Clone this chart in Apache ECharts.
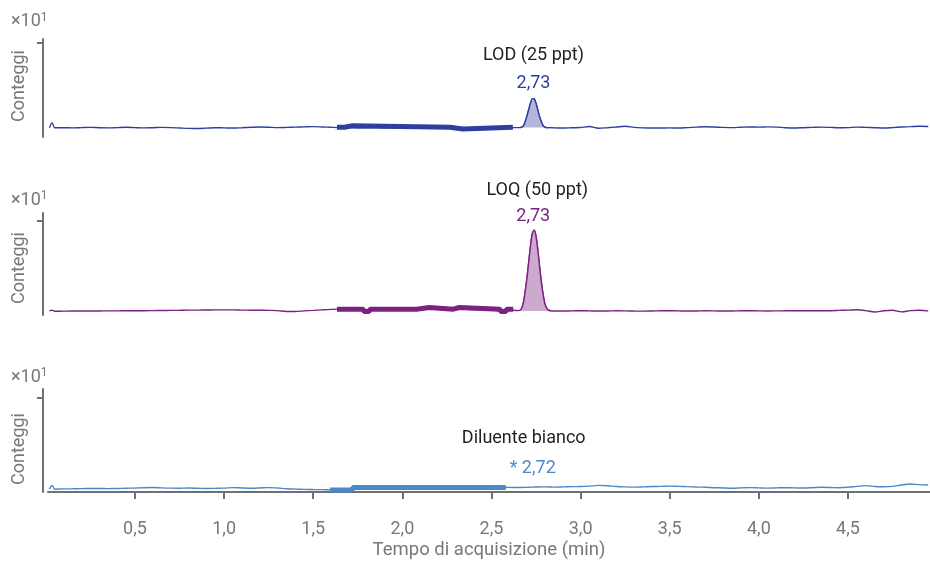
<!DOCTYPE html>
<html><head><meta charset="utf-8">
<script src="https://cdn.jsdelivr.net/npm/echarts@6/dist/echarts.min.js"></script>
<style>html,body{margin:0;padding:0;background:#fff}#c{width:930px;height:561px}</style>
</head><body><div id="c"></div>
<script>
// ---- data (counts in units of x10^1) ----
const tBase = [0.02,0.035,0.05,
 0.10,0.15,0.20,0.25,0.30,0.35,0.40,0.45,0.50,0.55,
 0.60,0.65,0.70,0.75,0.80,0.85,0.90,0.95,1.00,1.05,
 1.10,1.15,1.20,1.25,1.30,1.35,1.40,1.45,1.50,1.55,
 1.60,1.65,1.70,1.75,1.80,1.85,1.90,1.95,2.00,2.05,
 2.10,2.15,2.20,2.25,2.30,2.35,2.40,2.45,2.50,2.55,
 2.60,2.65,2.70,2.75,2.80,2.85,2.90,2.95,3.00,3.05,
 3.10,3.15,3.20,3.25,3.30,3.35,3.40,3.45,3.50,3.55,
 3.60,3.65,3.70,3.75,3.80,3.85,3.90,3.95,4.00,4.05,
 4.10,4.15,4.20,4.25,4.30,4.35,4.40,4.45,4.50,4.55,
 4.60,4.65,4.70,4.75,4.80,4.85,4.90,4.95];

const lodBase = [0.099,0.150,0.098,
 0.099,0.097,0.100,0.102,0.099,0.097,0.100,0.103,0.100,0.097,
 0.099,0.102,0.100,0.096,0.092,0.090,0.094,0.099,0.097,0.095,
 0.099,0.103,0.106,0.104,0.100,0.102,0.105,0.108,0.110,0.107,
 0.103,0.100,0.101,0.099,0.098,0.100,0.099,0.097,0.099,0.101,
 0.100,0.098,0.099,0.096,0.094,0.097,0.100,0.101,0.099,0.098,
 0.100,0.100,0.100,0.100,0.100,0.097,0.095,0.098,0.101,0.111,
 0.093,0.099,0.106,0.114,0.102,0.097,0.095,0.096,0.097,0.095,
 0.100,0.105,0.109,0.106,0.102,0.100,0.104,0.107,0.105,0.108,
 0.105,0.099,0.096,0.099,0.102,0.105,0.102,0.098,0.100,0.105,
 0.102,0.099,0.096,0.100,0.106,0.110,0.115,0.112];

const loqBase = [0.043,0.052,0.040,
 0.041,0.042,0.042,0.043,0.043,0.044,0.044,0.045,0.046,0.046,
 0.047,0.048,0.049,0.050,0.052,0.052,0.053,0.054,0.055,0.054,
 0.052,0.051,0.050,0.049,0.046,0.037,0.038,0.044,0.049,0.055,
 0.060,0.062,0.061,0.060,0.045,0.055,0.058,0.058,0.059,0.060,
 0.070,0.068,0.060,0.060,0.072,0.060,0.059,0.058,0.057,0.045,
 0.055,0.047,0.045,0.045,0.045,0.043,0.042,0.044,0.046,0.044,
 0.042,0.043,0.045,0.044,0.042,0.041,0.043,0.045,0.046,0.044,
 0.042,0.043,0.045,0.044,0.042,0.043,0.045,0.046,0.044,0.043,
 0.044,0.045,0.045,0.046,0.046,0.045,0.046,0.049,0.052,0.056,
 0.047,0.032,0.045,0.050,0.033,0.046,0.050,0.044];

const blankBase = [0.030,0.070,0.030,
 0.033,0.034,0.036,0.037,0.038,0.036,0.038,0.040,0.042,0.046,
 0.048,0.044,0.041,0.040,0.042,0.040,0.037,0.039,0.041,0.047,
 0.043,0.040,0.043,0.047,0.042,0.035,0.031,0.028,0.026,0.025,
 0.024,0.023,0.023,0.046,0.048,0.048,0.048,0.048,0.048,0.048,
 0.048,0.048,0.048,0.048,0.048,0.048,0.048,0.048,0.048,0.048,
 0.049,0.048,0.050,0.053,0.055,0.052,0.054,0.057,0.058,0.062,
 0.070,0.066,0.058,0.054,0.052,0.055,0.058,0.060,0.063,0.060,
 0.057,0.053,0.050,0.046,0.043,0.040,0.044,0.047,0.044,0.041,
 0.044,0.046,0.044,0.042,0.046,0.050,0.048,0.045,0.050,0.060,
 0.068,0.058,0.056,0.060,0.075,0.085,0.078,0.074];

const peakT   = [2.66,2.67,2.68,2.69,2.70,2.71,2.72,2.73,2.74,2.75,2.76,2.77,2.78,2.79,2.80,2.81,2.82,2.83];
const lodPeak = [0.100,0.104,0.120,0.168,0.228,0.300,0.368,0.408,0.404,0.356,0.285,0.215,0.160,0.118,0.105,0.100,0.100,0.100];
const loqPeak = [0.050,0.075,0.140,0.262,0.408,0.583,0.753,0.872,0.902,0.833,0.689,0.511,0.344,0.212,0.115,0.070,0.052,0.045];
const peakFloor = [0.100, 0.043];

// integration marks (time, level)
const lodBandT = [1.633,1.675,1.680,1.720,1.725,2.265,2.270,2.340,2.345,2.620];
const lodBandV = [0.103,0.103,0.120,0.120,0.103,0.103,0.085,0.085,0.103,0.103];
const loqBandT = [1.633,1.781,1.785,1.814,1.818,2.080,2.084,2.151,2.155,2.286,2.290,2.319,2.323,2.548,2.552,2.581,2.585,2.622];
const loqBandV = [0.062,0.062,0.036,0.036,0.062,0.062,0.080,0.080,0.062,0.062,0.080,0.080,0.062,0.062,0.036,0.036,0.062,0.062];
const blankBandT = [1.595,1.720,1.722,2.580];
const blankBandV = [0.022,0.022,0.048,0.048];

const titles = ['LOD (25 ppt)','LOQ (50 ppt)','Diluente bianco'];
const rtLabels = ['2,73','2,73','* 2,72'];
const rtBlank = 2.72;
const xTicks = [0.5,1.0,1.5,2.0,2.5,3.0,3.5,4.0,4.5];
const yTick = [1];

// ---- styling ----
const colors = ['#2f3f9f','#7b2182','#4b88c9'];
const fills = ['#b5b6da','#cca9cd'];
const grey = '#6f7073', txtGrey = '#76787b';
const FONT = 'Roboto';
const grids = [{top:39,height:98},{top:213,height:102},{top:389,height:103}];
const yMax = [98/94, 102/94, 103/94];
const lblOff = [[[1,-15],[1,-43.5]], [[-1,-13.5],[3,-39.5]], [[2,-18.5],[-7,-49]]];
const namePad = [[0,0,0,4],[0,8,0,0],[0,17,0,0]];
const supY = [21.5, 200, 377];

function pairs(t, v){ return t.map((x,i)=>[x, v[i]]); }
function merged(t, v, pt, pv){
  const out = [];
  t.forEach((x,i)=>{ if(!pt || x < pt[0]-1e-9 || x > pt[pt.length-1]+1e-9) out.push([x, v[i]]); });
  if(pt) pt.forEach((x,i)=>out.push([x, pv[i]]));
  out.sort((a,b)=>a[0]-b[0]);
  return out;
}
const bases = [lodBase, loqBase, blankBase];
const peaks = [lodPeak, loqPeak, null];
const bands = [[lodBandT,lodBandV],[loqBandT,loqBandV],[blankBandT,blankBandV]];

const option = {
  animation:false,
  backgroundColor:'#fff',
  textStyle:{fontFamily:FONT},
  grid: grids.map(g=>({left:48,right:0,top:g.top,height:g.height})),
  xAxis: [0,1,2].map(i=>({
    type:'value', gridIndex:i, min:0.012, max:4.96,
    show: i===2, offset: i===2 ? 12 : 0,
    name: i===2 ? 'Tempo di acquisizione (min)' : '',
    nameLocation:'middle', nameGap:37,
    nameTextStyle:{color:txtGrey, fontSize:18.5, fontFamily:FONT},
    axisLine:{show:true, lineStyle:{color:grey, width:2}},
    axisTick:{show:true, length:7, lineStyle:{color:grey, width:2}, customValues:xTicks},
    axisLabel:{show:true, color:txtGrey, fontSize:18, fontFamily:FONT, margin:16, customValues:xTicks,
      formatter:v=>Number(v).toFixed(1).replace('.',',')},
    splitLine:{show:false}
  })),
  yAxis: [0,1,2].map(i=>({
    type:'value', gridIndex:i, min:0, max:yMax[i], offset:5,
    name:'Conteggi', nameLocation:'middle', nameRotate:90, nameGap:15,
    nameTextStyle:{color:txtGrey, fontSize:18, fontFamily:FONT, padding:namePad[i]},
    axisLine:{show:true, lineStyle:{color:grey, width:2}},
    axisTick:{show:true, length:6, lineStyle:{color:grey, width:2}, customValues:yTick},
    axisLabel:{show:false},
    splitLine:{show:false}
  })),
  graphic: supY.map(y=>({type:'text', x:11, y:y, style:{
    text:'{a|×10}{s|1}', verticalAlign:'middle',
    rich:{a:{fontSize:18, fontFamily:FONT, fill:txtGrey, lineHeight:20},
          s:{fontSize:12, fontFamily:FONT, fill:txtGrey, lineHeight:20, verticalAlign:'top'}}
  }})),
  series: []
};

for(let i=0;i<3;i++){
  const c = colors[i];
  option.series.push({
    type:'line', xAxisIndex:i, yAxisIndex:i, data: merged(tBase, bases[i], peaks[i]?peakT:null, peaks[i]),
    symbol:'none', smooth:0.3, lineStyle:{color:c, width:1.4}, z:2
  });
  let anchor;
  if(peaks[i]){
    const pv = peaks[i];
    const k = pv.indexOf(Math.max(...pv));
    anchor = [peakT[k], pv[k]];
    option.series.push({
      type:'line', xAxisIndex:i, yAxisIndex:i, data: pairs(peakT, pv),
      symbol:'none', smooth:0.3, lineStyle:{color:c, width:1.4},
      areaStyle:{color:fills[i], opacity:1, origin:peakFloor[i]}, z:3
    });
  } else {
    const bv = bands[i][1];
    anchor = [rtBlank, bv[bv.length-1]];
  }
  option.series.push({
    type:'line', xAxisIndex:i, yAxisIndex:i, data: pairs(bands[i][0], bands[i][1]),
    symbol:'none', lineStyle:{color:c, width:5}, z:4,
    markPoint:{
      symbol:'circle', symbolSize:1, itemStyle:{color:'rgba(0,0,0,0)'},
      data:[
        {coord:anchor, label:{show:true, position:'inside', offset:lblOff[i][0], formatter:rtLabels[i], color:c, fontSize:18, fontFamily:FONT}},
        {coord:anchor, label:{show:true, position:'inside', offset:lblOff[i][1], formatter:titles[i], color:'#231f20', fontSize:18, fontFamily:FONT}}
      ]
    }
  });
}

const chart = echarts.init(document.getElementById('c'), null, {renderer:'canvas'});
chart.setOption(option);
</script>
</body></html>
